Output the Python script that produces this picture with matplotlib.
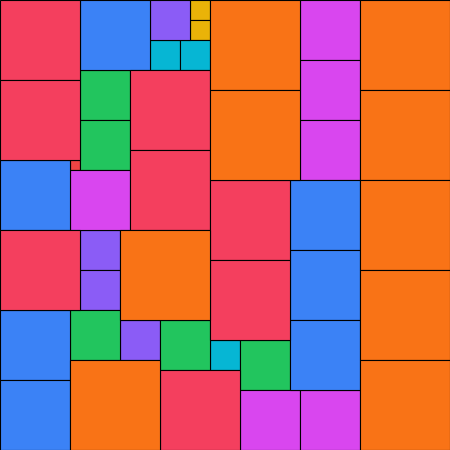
import matplotlib
matplotlib.use("Agg")
import matplotlib.pyplot as plt
from matplotlib.patches import Rectangle

# square side (in units of 10 px) -> colour
sizes = [1, 2, 3, 4, 5, 6, 7, 8, 9]
colors = ["#EF4444", "#EAB308", "#06B6D4", "#8B5CF6", "#22C55E",
          "#D946EF", "#3B82F6", "#F43F5E", "#F97316"]

# top-left corners of each square, grouped by size
corners = {
    1: [(7, 16)],
    2: [(19, 0), (19, 2)],
    3: [(15, 4), (18, 4), (21, 34)],
    4: [(15, 0), (8, 23), (8, 27), (12, 32)],
    5: [(8, 7), (8, 12), (7, 31), (16, 32), (24, 34)],
    6: [(30, 0), (30, 6), (30, 12), (7, 17), (24, 39), (30, 39)],
    7: [(8, 0), (0, 16), (0, 31), (0, 38), (29, 18), (29, 25), (29, 32)],
    8: [(0, 0), (0, 8), (13, 7), (13, 15), (0, 23), (21, 18), (21, 26), (16, 37)],
    9: [(21, 0), (21, 9), (36, 0), (36, 9), (36, 18), (36, 27), (36, 36),
        (12, 23), (7, 36)],
}

fig = plt.figure(figsize=(4.5, 4.5), dpi=100)
ax = fig.add_axes([0, 0, 1, 1])

for s, c in zip(sizes, colors):
    for x, y in corners[s]:
        ax.add_patch(Rectangle((x, y), s, s, facecolor=c, edgecolor="black",
                               linewidth=0.8))

ax.set_xlim(0, 45)
ax.set_ylim(45, 0)
ax.axis("off")

fig.savefig("out.png", dpi=100)
